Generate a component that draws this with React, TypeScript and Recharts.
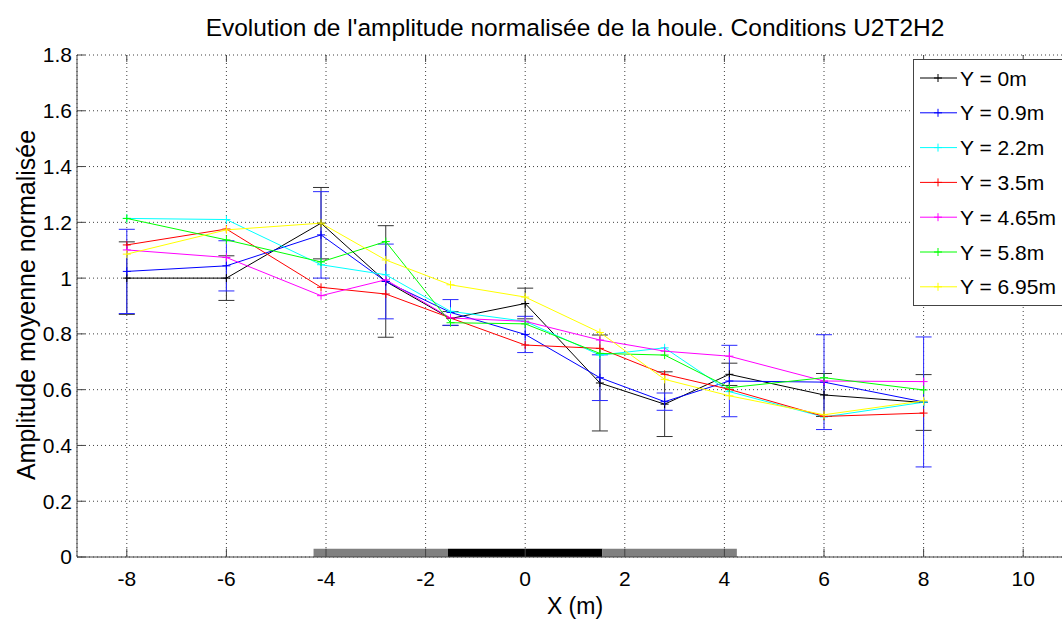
import React from 'react';
import {
  ComposedChart,
  Line,
  XAxis,
  YAxis,
  CartesianGrid,
  ErrorBar,
  ReferenceArea,
  ReferenceLine,
} from 'recharts';

// ---- data ----
const xPositions = [-8, -6, -4.1, -2.8, -1.5, 0, 1.5, 2.8, 4.1, 6, 8];
const seriesY0 = [1.0, 1.0, 1.197, 0.988, 0.855, 0.909, 0.624, 0.548, 0.655, 0.581, 0.554];
const errY0 = [0.13, 0.08, 0.128, 0.2, 0.025, 0.055, 0.172, 0.116, 0.04, 0.077, 0.1];
const seriesY09 = [1.024, 1.044, 1.155, 0.988, 0.877, 0.798, 0.643, 0.557, 0.631, 0.627, 0.556];
const errY09 = [0.151, 0.09, 0.155, 0.134, 0.046, 0.065, 0.082, 0.031, 0.128, 0.17, 0.233];
const seriesY22 = [1.214, 1.21, 1.048, 1.012, 0.881, 0.845, 0.724, 0.75, 0.593, 0.502, 0.555];
const seriesY35 = [1.119, 1.176, 0.967, 0.943, 0.857, 0.76, 0.748, 0.655, 0.601, 0.504, 0.516];
const seriesY465 = [1.101, 1.074, 0.937, 0.994, 0.857, 0.845, 0.778, 0.738, 0.72, 0.631, 0.629];
const seriesY58 = [1.214, 1.137, 1.058, 1.131, 0.84, 0.836, 0.73, 0.724, 0.607, 0.643, 0.599];
const seriesY695 = [1.086, 1.173, 1.197, 1.065, 0.976, 0.932, 0.805, 0.637, 0.578, 0.51, 0.56];

const legendLabels = ['Y = 0m', 'Y = 0.9m', 'Y = 2.2m', 'Y = 3.5m', 'Y = 4.65m', 'Y = 5.8m', 'Y = 6.95m'];
const seriesKeys = ['y0', 'y09', 'y22', 'y35', 'y465', 'y58', 'y695'];
const seriesColors = ['#000000', '#0000ff', '#00ffff', '#ff0000', '#ff00ff', '#00ff00', '#ffff00'];

const xTicks = [-8, -6, -4, -2, 0, 2, 4, 6, 8, 10];
const yTicks = [0, 0.2, 0.4, 0.6, 0.8, 1, 1.2, 1.4, 1.6, 1.8];

// structure bars at the bottom [start, end, color]
const structureBands: [number, number, string][] = [
  [-4.25, -1.55, '#808080'],
  [-1.55, 1.55, '#000000'],
  [1.55, 4.25, '#808080'],
];
const bandHeight = 0.03;

const TITLE = "Evolution de l'amplitude normalisée de la houle. Conditions U2T2H2";
const XLABEL = 'X (m)';
const YLABEL = 'Amplitude moyenne normalisée';

const data = xPositions.map((x, i) => ({
  x,
  y0: seriesY0[i],
  e0: errY0[i],
  y09: seriesY09[i],
  e09: errY09[i],
  y22: seriesY22[i],
  y35: seriesY35[i],
  y465: seriesY465[i],
  y58: seriesY58[i],
  y695: seriesY695[i],
}));

const FONT = '"Liberation Sans", Arial, Helvetica, sans-serif';

const plusDot = (color: string) => (props: any) => {
  const { cx, cy, index } = props;
  if (cx == null || cy == null) return <g key={`d${index}`} />;
  return (
    <path
      key={`d${index}`}
      d={`M${cx - 4},${cy}h8M${cx},${cy - 4}v8`}
      stroke={color}
      strokeWidth={1}
      fill="none"
    />
  );
};

export default function App() {
  const W = 1100;
  const H = 621;
  return (
    <div
      style={{
        position: 'fixed',
        left: 0,
        top: 0,
        width: 1062,
        height: 621,
        overflow: 'hidden',
        background: '#fff',
      }}
    >
      <ComposedChart
        width={W}
        height={H}
        data={data}
        margin={{ top: 55, right: 27, bottom: 34, left: 17 }}
        style={{ position: 'absolute', left: 0, top: 0 }}
      >
        <CartesianGrid stroke="#000" strokeDasharray="1 3" strokeWidth={1} strokeOpacity={0.75} />
        <XAxis
          type="number"
          dataKey="x"
          domain={[-9, 11]}
          ticks={xTicks}
          allowDataOverflow
          height={30}
          tickLine={false}
          tickSize={8}
          tickMargin={6}
          axisLine={{ stroke: '#444', strokeWidth: 1 }}
          tick={{ fontSize: 21, fill: '#000', fontFamily: FONT }}
        />
        <YAxis
          type="number"
          domain={[0, 1.8]}
          ticks={yTicks}
          allowDataOverflow
          width={60}
          tickLine={false}
          tickSize={3}
          tickMargin={2}
          axisLine={{ stroke: '#444', strokeWidth: 1 }}
          tick={{ fontSize: 21, fill: '#000', fontFamily: FONT }}
        />
        {yTicks.map((v) => (
          <ReferenceLine
            key={`yt${v}`}
            segment={[
              { x: -9, y: v },
              { x: -8.84, y: v },
            ]}
            stroke="#444"
            strokeWidth={1}
          />
        ))}
        {xTicks.map((v) => (
          <ReferenceLine
            key={`xt${v}`}
            segment={[
              { x: v, y: 0 },
              { x: v, y: 0.03 },
            ]}
            stroke="#444"
            strokeWidth={1}
          />
        ))}
        {xTicks.map((v) => (
          <ReferenceLine
            key={`xtt${v}`}
            segment={[
              { x: v, y: 1.8 },
              { x: v, y: 1.775 },
            ]}
            stroke="#444"
            strokeWidth={1}
          />
        ))}
        {structureBands.map(([a, b, c], i) => (
          <ReferenceArea
            key={`band${i}`}
            x1={a}
            x2={b}
            y1={0}
            y2={bandHeight}
            fill={c}
            fillOpacity={1}
            stroke="none"
          />
        ))}
        {seriesKeys.map((k, i) => (
          <Line
            key={k}
            type="linear"
            dataKey={k}
            stroke={seriesColors[i]}
            strokeWidth={1}
            dot={plusDot(seriesColors[i])}
            activeDot={false}
            isAnimationActive={false}
          >
            {k === 'y0' && (
              <ErrorBar dataKey="e0" direction="y" width={8} stroke="#333" strokeWidth={1} isAnimationActive={false} />
            )}
            {k === 'y09' && (
              <ErrorBar dataKey="e09" direction="y" width={8} stroke="#2a2aff" strokeWidth={1} isAnimationActive={false} />
            )}
          </Line>
        ))}
      </ComposedChart>
      <svg
        width={1062}
        height={621}
        style={{ position: 'absolute', left: 0, top: 0, pointerEvents: 'none' }}
      >
        <text x={575} y={36} textAnchor="middle" fontSize={24.5} fontFamily={FONT} fill="#000">
          {TITLE}
        </text>
        <text x={575} y={614} textAnchor="middle" fontSize={23} fontFamily={FONT} fill="#000">
          {XLABEL}
        </text>
        <text
          x={0}
          y={0}
          transform="translate(35,305) rotate(-90)"
          textAnchor="middle"
          fontSize={25}
          fontFamily={FONT}
          fill="#000"
        >
          {YLABEL}
        </text>
        <rect x={913.5} y={59.5} width={170} height={246} fill="#fff" stroke="#444" strokeWidth={1} />
        {legendLabels.map((lab, i) => {
          const cy = 78 + 34.8 * i;
          return (
            <g key={lab}>
              <line x1={920} x2={957} y1={cy} y2={cy} stroke={seriesColors[i]} strokeWidth={1} />
              <path d={`M${934},${cy}h8M${938},${cy - 4}v8`} stroke={seriesColors[i]} strokeWidth={1} />
              <text x={960} y={cy} dominantBaseline="central" fontSize={21} fontFamily={FONT} fill="#000">
                {lab}
              </text>
            </g>
          );
        })}
      </svg>
    </div>
  );
}
